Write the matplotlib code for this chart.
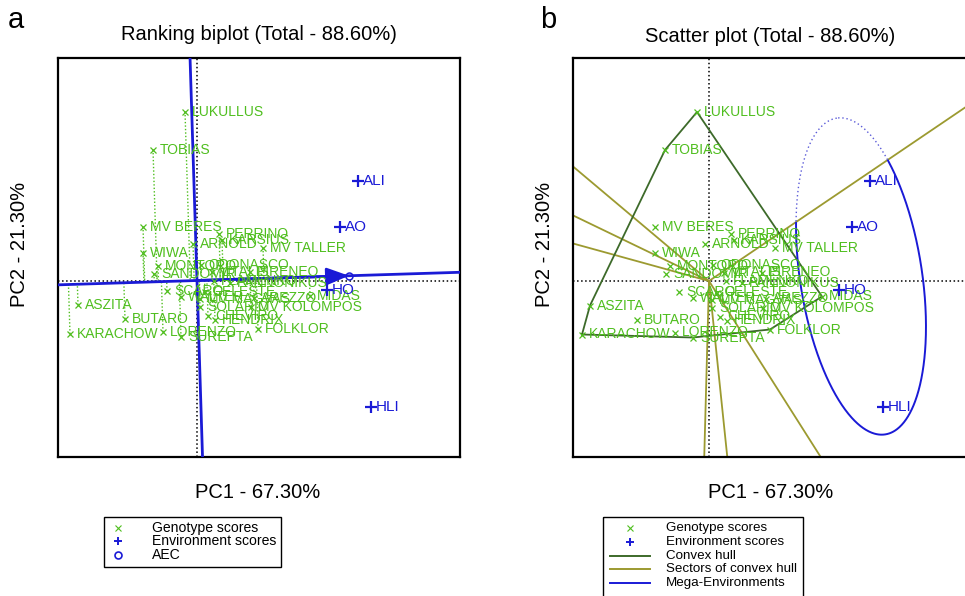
import numpy as np
import matplotlib
matplotlib.use('Agg')
import matplotlib.pyplot as plt
from matplotlib.patches import Rectangle

plt.rcParams['font.family'] = ['Liberation Sans', 'DejaVu Sans']

# ---------------------------------------------------------------------------
# data (PC1, PC2 scores)
geno_names = ['LUKULLUS', 'TOBIAS', 'MV BERES', 'WIWA', 'ARNOLD', 'PERRINO',
              'KARSIUS', 'MV TALLER', 'MONTORO', 'ODONASCO', 'SANDOMIR',
              'VITALIS', 'PIRENEO', 'FLAMENKO', 'PANNONIKUS', 'SCARO',
              'CELESTE', 'WALTER', 'MV MAGVAS', 'AREZZO', 'SOLARIO',
              'MV KOLOMPOS', 'MIDAS', 'CHEVIRO', 'HENDRIX', 'FOLKLOR',
              'ASZITA', 'BUTARO', 'KARACHOW', 'LORENZO', 'SUREPTA']
geno_pc1 = [-0.12, -0.44, -0.54, -0.54, -0.04, 0.22,
            0.25, 0.66, -0.39, 0.04, -0.43,
            0.15, 0.53, 0.17, 0.33, -0.30,
            0.08, -0.16, 0.03, 0.57, 0.03,
            0.54, 1.13, 0.11, 0.18, 0.61,
            -1.19, -0.72, -1.27, -0.34, -0.16]
geno_pc2 = [1.69, 1.31, 0.54, 0.28, 0.37, 0.47,
            0.41, 0.33, 0.15, 0.16, 0.07,
            0.085, 0.085, 0.0, -0.02, -0.105,
            -0.115, -0.165, -0.185, -0.175, -0.265,
            -0.265, -0.155, -0.355, -0.395, -0.485,
            -0.245, -0.385, -0.535, -0.515, -0.565]

env_names = ['ALI', 'AO', 'HO', 'HLI']
env_pc1 = [1.61, 1.43, 1.30, 1.74]
env_pc2 = [1.00, 0.54, -0.09, -1.26]

pc1_label = 'PC1 - 67.30%'
pc2_label = 'PC2 - 21.30%'
titles = ['Ranking biplot (Total - 88.60%)', 'Scatter plot (Total - 88.60%)']

# mega-environment ellipse (semi axes, tilt)
mega_axes = (1.60, 0.61)
mega_angle = 98.7

GREEN = '#4fbe1e'
BLUE = '#1a1ad6'
HULL = '#3d6a2a'
SECTOR = '#9c9a30'

gx = np.array(geno_pc1)
gy = np.array(geno_pc2)
ex = np.array(env_pc1)
ey = np.array(env_pc2)


def convex_hull(points):
    pts = sorted(set(points))

    def cross(o, a, b):
        return (a[0] - o[0]) * (b[1] - o[1]) - (a[1] - o[1]) * (b[0] - o[0])

    lower = []
    for p in pts:
        while len(lower) >= 2 and cross(lower[-2], lower[-1], p) <= 0:
            lower.pop()
        lower.append(p)
    upper = []
    for p in reversed(pts):
        while len(upper) >= 2 and cross(upper[-2], upper[-1], p) <= 0:
            upper.pop()
        upper.append(p)
    return lower[:-1] + upper[:-1]


def draw_scores(ax):
    ax.axhline(0, color='black', ls=':', lw=1.1, zorder=1)
    ax.axvline(0, color='black', ls=':', lw=1.1, zorder=1)
    ax.plot(gx, gy, ls='none', marker='x', ms=4.8, mew=0.9, color=GREEN, zorder=4)
    for name, x, y in zip(geno_names, gx, gy):
        ax.annotate(name, (x, y), xytext=(5, 0), textcoords='offset points',
                    ha='left', va='center', fontsize=10, color=GREEN, zorder=4)
    ax.plot(ex, ey, ls='none', marker='+', ms=8, mew=1.6, color=BLUE, zorder=5)
    for name, x, y in zip(env_names, ex, ey):
        ax.annotate(name, (x, y), xytext=(3.5, 0), textcoords='offset points',
                    ha='left', va='center', fontsize=11, color=BLUE, zorder=5)


def frame(ax, xlim, ylim):
    ax.set_xlim(*xlim)
    ax.set_ylim(*ylim)
    ax.set_xticks([])
    ax.set_yticks([])
    for s in ax.spines.values():
        s.set_linewidth(1.6)
        s.set_color('black')


fig = plt.figure(figsize=(9.65, 5.96), dpi=100)

# ----------------------------------------------------------- panel a
ax1 = fig.add_axes([58 / 965, 1 - 457 / 596, 402 / 965, 399 / 596])
frame(ax1, (-1.39, 2.63), (-1.765, 2.225))

avg = np.array([ex.mean(), ey.mean()])
d = avg / np.linalg.norm(avg)
perp = np.array([-d[1], d[0]])
t = np.array([-10, 10])
# projections of genotypes on the AEC abscissa
for x, y in zip(gx, gy):
    s = x * d[0] + y * d[1]
    ax1.plot([x, s * d[0]], [y, s * d[1]], ls=(0, (1, 1.5)), lw=1.0,
             color=GREEN, zorder=2)
draw_scores(ax1)
ax1.plot(t * d[0], t * d[1], color=BLUE, lw=2.0, zorder=3)
ax1.plot(t * perp[0], t * perp[1], color=BLUE, lw=2.0, zorder=3)
ax1.annotate('', xy=avg, xytext=(0, 0),
             arrowprops=dict(arrowstyle='-|>,head_length=0.9,head_width=0.35',
                             color=BLUE, lw=2, mutation_scale=15,
                             shrinkA=0, shrinkB=0), zorder=3)
ax1.plot(avg[0], avg[1], marker='o', ms=5, mfc='none', mec=BLUE, mew=1.1, zorder=6)

# ----------------------------------------------------------- panel b
ax2 = fig.add_axes([573 / 965, 1 - 457 / 596, 402 / 965, 399 / 596])
frame(ax2, (-1.36, 2.66), (-1.76, 2.23))
draw_scores(ax2)

hull = convex_hull(list(zip(gx, gy)))
hx = [p[0] for p in hull] + [hull[0][0]]
hy = [p[1] for p in hull] + [hull[0][1]]
ax2.plot(hx, hy, color=HULL, lw=1.3, zorder=3)

ray_angles = []
for i in range(len(hull)):
    p, q = np.array(hull[i]), np.array(hull[(i + 1) % len(hull)])
    n = np.array([q[1] - p[1], -(q[0] - p[0])])
    n = n / np.linalg.norm(n)
    ray_angles.append(np.arctan2(n[1], n[0]))
    ax2.plot([0, 10 * n[0]], [0, 10 * n[1]], color=SECTOR, lw=1.3, zorder=2)
ray_angles = np.sort(np.mod(ray_angles, 2 * np.pi))


def sector_of(x, y):
    a = np.mod(np.arctan2(y, x), 2 * np.pi)
    return np.searchsorted(ray_angles, a) % len(ray_angles)


# mega-environment ellipse, solid inside the sector of the environments
tt = np.linspace(0, 2 * np.pi, 721)
phi = np.radians(mega_angle)
u = np.array([np.cos(phi), np.sin(phi)])
v = np.array([-np.sin(phi), np.cos(phi)])
elx = avg[0] + mega_axes[0] * np.cos(tt) * u[0] + mega_axes[1] * np.sin(tt) * v[0]
ely = avg[1] + mega_axes[0] * np.cos(tt) * u[1] + mega_axes[1] * np.sin(tt) * v[1]
inside = sector_of(elx, ely) == sector_of(avg[0], avg[1])
ax2.plot(np.where(inside, elx, np.nan), np.where(inside, ely, np.nan),
         color=BLUE, lw=1.4, zorder=3)
ax2.plot(np.where(~inside, elx, np.nan), np.where(~inside, ely, np.nan),
         color='#5a5ad8', lw=1.0, ls=(0, (1, 2)), zorder=3)

# ----------------------------------------------------------- labels, legends
lay = fig.add_axes([0, 0, 1, 1], zorder=10)
lay.set_xlim(0, 965)
lay.set_ylim(596, 0)
lay.set_axis_off()

lay.text(16, 20, 'a', fontsize=21, ha='center', va='center')
lay.text(548, 20, 'b', fontsize=21, ha='center', va='center')
lay.text(259, 40.5, titles[0], fontsize=14.5, ha='center', va='baseline')
lay.text(770, 42.5, titles[1], fontsize=14.5, ha='center', va='baseline')
lay.text(258, 492, pc1_label, fontsize=14.5, ha='center', va='center')
lay.text(771, 492, pc1_label, fontsize=14.5, ha='center', va='center')
lay.text(20, 244, pc2_label, fontsize=14.5, ha='center', va='center', rotation=90)
lay.text(545, 244, pc2_label, fontsize=14.5, ha='center', va='center', rotation=90)

# legend of panel a
lay.add_patch(Rectangle((104, 517), 177, 50, fill=False, lw=1.0, ec='black'))
rows_a = [('x', GREEN, 'Genotype scores'), ('+', BLUE, 'Environment scores'),
          ('o', BLUE, 'AEC')]
for i, (m, c, lab) in enumerate(rows_a):
    y = 528 + 13.3 * i
    if m == 'o':
        lay.plot(118, y, marker='o', ms=5, mfc='none', mec=c, mew=1.2)
    else:
        lay.plot(118, y, marker=m, ms=6 if m == '+' else 4.5,
                 mew=1.4 if m == '+' else 0.8, color=c)
    lay.text(152, y, lab, fontsize=10.1, va='center', ha='left')

# legend of panel b
lay.add_patch(Rectangle((603, 517), 200, 85, fill=False, lw=1.0, ec='black'))
rows_b = [('x', GREEN, 'Genotype scores'), ('+', BLUE, 'Environment scores'),
          ('-', HULL, 'Convex hull'), ('-', SECTOR, 'Sectors of convex hull'),
          ('-', BLUE, 'Mega-Environments')]
for i, (m, c, lab) in enumerate(rows_b):
    y = 528 + 13.8 * i
    if m == '-':
        lay.plot([610, 650], [y, y], color=c, lw=1.4)
    else:
        lay.plot(630, y, marker=m, ms=6 if m == '+' else 4.5,
                 mew=1.4 if m == '+' else 0.8, color=c)
    lay.text(666, y, lab, fontsize=9.6, va='center', ha='left')

fig.savefig('out.png', dpi=100)
